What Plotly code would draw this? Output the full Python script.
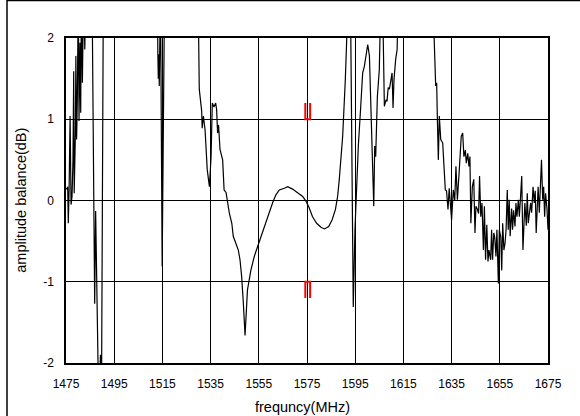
import plotly.graph_objects as go

# frequency (MHz) and amplitude balance (dB); values beyond +/-2 are clipped by the axis
freq = [1475.0, 1475.4, 1475.7, 1475.95, 1476.3, 1476.7, 1477.1, 1477.5, 1477.9, 1478.2, 1478.4,
        1478.9, 1479.1, 1479.4, 1479.7, 1480.1, 1480.4, 1480.8, 1481.1, 1481.4, 1481.8, 1482.3,
        1482.8, 1483.2, 1485.8, 1486.9, 1487.3, 1488.2, 1488.6, 1489.3, 1489.7, 1490.5,
        1512.9, 1513.1, 1513.3, 1513.5, 1513.7, 1514.2, 1514.9, 1515.9,
        1529.8, 1530.3, 1531.3, 1531.5, 1532.0, 1532.7, 1533.6, 1534.5, 1535.2, 1535.7, 1536.4,
        1537.1, 1537.5, 1537.9, 1538.3, 1538.9, 1540.0, 1540.6, 1541.4, 1542.1, 1542.8, 1543.8,
        1544.4, 1545.5, 1546.5, 1547.2, 1547.9, 1548.6, 1549.3, 1550.3, 1551.7, 1553.1, 1554.5,
        1555.9, 1557.3, 1558.6, 1560.7, 1562.1, 1563.5, 1565.6, 1567.0, 1569.0, 1571.1, 1573.2,
        1574.6, 1575.9, 1577.3, 1579.0, 1580.8, 1582.2, 1584.0, 1585.4, 1586.8, 1587.7, 1588.4,
        1589.8, 1590.9, 1591.6, 1592.2, 1593.0, 1594.2, 1594.9, 1596.3, 1597.3, 1598.1, 1598.8,
        1599.5, 1600.2, 1600.9, 1601.6, 1602.3, 1602.7, 1603.1, 1603.5, 1604.2, 1605.0, 1605.7,
        1606.3, 1607.1, 1607.8, 1608.2, 1608.7, 1609.2, 1609.9, 1610.3, 1610.7, 1611.1, 1611.8,
        1612.4, 1612.9,
        1627.1, 1628.4, 1628.8, 1629.1, 1629.5, 1629.9, 1630.5, 1631.3, 1631.8, 1632.4, 1632.9,
        1633.5, 1634.0, 1634.6, 1635.0, 1635.7, 1636.3, 1636.8, 1637.4, 1638.2, 1639.0, 1639.6,
        1640.1, 1640.7, 1641.1, 1641.7, 1642.2, 1642.6, 1643.0, 1643.6, 1644.2, 1644.7, 1645.1,
        1645.6, 1646.2, 1646.6, 1647.1, 1647.6, 1648.2, 1648.6, 1649.1, 1649.6, 1650.1, 1650.5,
        1651.2, 1651.6, 1652.0, 1652.5, 1652.9, 1653.4, 1653.8, 1654.4, 1654.8, 1655.4, 1655.8,
        1656.2, 1656.7, 1657.2, 1657.6, 1658.1, 1658.5, 1658.9, 1659.3, 1659.9, 1660.3, 1660.7,
        1661.3, 1661.7, 1662.1, 1662.7, 1663.1, 1663.6, 1664.1, 1664.6, 1665.0, 1665.4, 1666.0,
        1666.4, 1666.8, 1667.4, 1667.8, 1668.2, 1668.8, 1669.3, 1669.7, 1670.1, 1670.5, 1670.9,
        1671.4, 1671.8, 1672.3, 1672.8, 1673.2, 1673.6, 1674.0, 1674.6, 1675.0]

balance = [0.15, 0.14, 0.17, -0.28, 0.15, 1.04, -0.05, 0.05, 0.50, 1.59, 0.09,
           0.83, 1.78, 0.75, 1.24, 2.6, 0.98, 1.94, 1.08, 2.6, 1.45, 2.6,
           1.86, 2.6, 2.6, -1.27, -0.13, -1.62, -2.6, -1.9, -2.6, 2.6,
           2.6, 1.84, 1.5, 1.8, 1.41, 2.6, -0.81, 2.6,
           2.6, 1.37, 1.10, 0.89, 1.04, 0.87, 0.38, 0.17, 0.54, 1.20, 1.15,
           1.20, 1.12, 0.83, 0.93, 0.63, 0.50, 0.13, 0.10, -0.03, -0.16, -0.28,
           -0.44, -0.53, -0.61, -0.73, -0.94, -1.27, -1.66, -1.10, -0.86, -0.69, -0.57,
           -0.44, -0.32, -0.20, -0.03, 0.07, 0.13, 0.15, 0.17, 0.14, 0.10, 0.05,
           -0.01, -0.09, -0.20, -0.28, -0.33, -0.35, -0.32, -0.24, -0.11, 0.05, 0.26,
           0.79, 1.49, 2.0, 2.6, 2.6, -1.31, -0.36, 0.67, 1.16, 1.57, 1.65,
           1.82, 1.92, 1.78, 1.16, 0.54, -0.07, 0.67, 0.54, 1.28, 1.61, 2.6,
           2.6, 1.16, 1.24, 1.22, 1.39, 1.37, 1.53, 1.57, 1.14, 1.49, 1.74,
           1.86, 2.6,
           2.6, 1.41, 1.45, 1.0, 0.50, 1.04, 0.75, 0.71, 0.38, 0.13, 0.12,
           -0.11, 0.15, -0.03, -0.24, 0.13, 0.0, 0.42, 0.01, 0.38, 0.79, 0.83,
           0.54, 0.62, 0.46, 0.58, 0.42, 0.54, -0.28, 0.17, 0.26, -0.40, -0.07,
           -0.10, -0.16, 0.30, -0.20, -0.03, -0.61, -0.07, -0.73, -0.30, -0.75, -0.61,
           -0.73, -0.36, -0.73, -0.40, -0.45, -0.69, -0.36, -1.02, -0.36, -0.45, -0.86,
           -0.28, -0.61, -0.52, -0.36, 0.13, -0.36, 0.01, -0.44, -0.10, -0.36, -0.12,
           -0.32, -0.03, -0.20, 0.01, -0.20, 0.04, 0.30, -0.61, -0.36, -0.03, -0.31,
           0.09, -0.28, -0.08, -0.03, -0.15, 0.17, -0.03, 0.12, -0.40, 0.04, 0.17,
           -0.15, 0.17, 0.50, 0.01, 0.17, -0.20, 0.09, -0.11, -0.36]

# spec mask markers around 1575.42 MHz
mask_x = [1574.3, 1574.3, 1576.3, 1576.3]
mask_upper = [1.2, 1.0, 1.0, 1.2]
mask_lower = [-1.2, -1.0, -1.0, -1.2]

x_ticks = [1475, 1495, 1515, 1535, 1555, 1575, 1595, 1615, 1635, 1655, 1675]
y_ticks = [-2, -1, 0, 1, 2]

fig = go.Figure()
fig.add_trace(go.Scatter(x=freq, y=balance, mode="lines",
                         line=dict(color="black", width=1.2), showlegend=False))
fig.add_trace(go.Scatter(x=mask_x, y=mask_upper, mode="lines",
                         line=dict(color="#ff0000", width=2), showlegend=False))
fig.add_trace(go.Scatter(x=mask_x, y=mask_lower, mode="lines",
                         line=dict(color="#ff0000", width=2), showlegend=False))

font = "Liberation Sans, Arial, sans-serif"
fig.update_layout(
    width=580, height=416,
    margin=dict(l=66, r=32, t=38, b=53),
    paper_bgcolor="white", plot_bgcolor="white",
    font=dict(family=font, size=12, color="black"),
    xaxis=dict(range=[1475, 1675], tickvals=x_ticks, ticktext=[str(v) for v in x_ticks],
               showgrid=True, gridcolor="black", gridwidth=1,
               showline=True, linecolor="black", linewidth=1.5, mirror=True,
               ticks="outside", ticklen=9, tickcolor="rgba(0,0,0,0)",
               zeroline=False, tickfont=dict(size=12)),
    yaxis=dict(range=[-2, 2], tickvals=y_ticks, ticktext=[str(v) for v in y_ticks],
               showgrid=True, gridcolor="black", gridwidth=1,
               showline=True, linecolor="black", linewidth=1.5, mirror=True,
               ticks="outside", ticklen=8, tickcolor="rgba(0,0,0,0)",
               zeroline=False, tickfont=dict(size=12)),
    annotations=[
        dict(text="frequncy(MHz)", xref="paper", yref="paper", x=0.49, y=-0.134,
             xanchor="center", yanchor="middle", showarrow=False, font=dict(size=14.5)),
        dict(text="amplitude balance(dB)", xref="paper", yref="paper", x=-0.095, y=0.5,
             xanchor="center", yanchor="middle", textangle=-90, showarrow=False,
             font=dict(size=14.5)),
    ],
    shapes=[
        dict(type="line", xref="paper", yref="paper", x0=-0.1224, x1=-0.1224, y0=-0.17, y1=1.12,
             line=dict(color="black", width=1.5)),
        dict(type="line", xref="paper", yref="paper", x0=-0.1224, x1=1.07, y0=1.1154, y1=1.1154,
             line=dict(color="black", width=1.5)),
    ],
)

fig.write_html("out.html")
